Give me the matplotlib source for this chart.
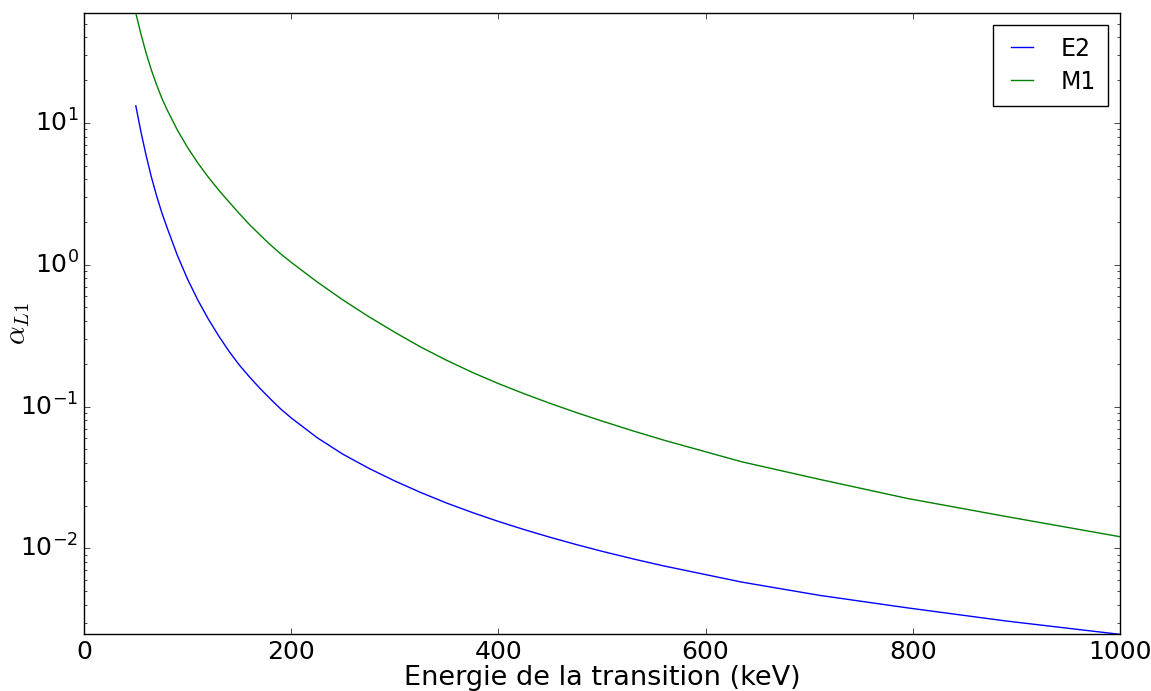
import numpy as np
import matplotlib
matplotlib.use('Agg')
import matplotlib.pyplot as plt

plt.style.use('classic')
plt.rcParams['axes.unicode_minus'] = False

# energies (keV) of the tabulated points
energie = [50, 55, 60, 65, 70, 75, 80, 90, 100, 110, 120, 130, 140, 150, 160,
           170, 180, 190, 200, 225, 250, 275, 300, 325, 350, 375, 400, 425,
           450, 475, 500, 530, 560, 635, 710, 795, 890, 1000]

# L1 conversion coefficients
alpha_E2 = [13.2, 8.60, 5.87, 4.16, 3.07, 2.34, 1.84, 1.17, 0.79, 0.561, 0.414,
            0.315, 0.245, 0.196, 0.161, 0.134, 0.113, 0.096, 0.0832, 0.0604,
            0.0461, 0.0367, 0.0299, 0.0248, 0.0209, 0.0179, 0.0155, 0.01357,
            0.01198, 0.01066, 0.00955, 0.00844, 0.00752, 0.00579, 0.00467,
            0.00381, 0.00308, 0.00248]
alpha_M1 = [59.4, 42.1, 31.0, 23.6, 18.6, 15.0, 12.45, 8.93, 6.70, 5.20, 4.14,
            3.36, 2.77, 2.29, 1.91, 1.62, 1.38, 1.19, 1.04, 0.757, 0.564,
            0.430, 0.334, 0.263, 0.212, 0.174, 0.1453, 0.1231, 0.1053, 0.0909,
            0.0791, 0.0674, 0.0579, 0.0408, 0.0307, 0.0225, 0.0168, 0.0121]

fig = plt.figure(figsize=(11.51, 6.91), dpi=100, facecolor='white')
ax = fig.add_axes([0.073, 0.082, 0.900, 0.899])

ax.plot(energie, alpha_E2, 'b', label='E2', linewidth=1.0)
ax.plot(energie, alpha_M1, 'g', label='M1', linewidth=1.0)

ax.set_yscale('log')
ax.set_xlim(0, 1000)
ax.set_ylim(min(alpha_E2), max(alpha_M1))

ax.set_xlabel('Energie de la transition (keV)', fontsize=19.5)
ax.set_ylabel(r'$\alpha_{L1}$', fontsize=21)
ax.xaxis.set_label_coords(0.5, -0.049)
ax.yaxis.set_label_coords(-0.05, 0.5)
ax.tick_params(labelsize=18)

legend = ax.legend(loc='upper right', fontsize=17, fancybox=False,
                   handlelength=1.5, handletextpad=0.9, borderpad=0.5,
                   labelspacing=0.38)

fig.savefig('out.png', dpi=100, facecolor='white')
